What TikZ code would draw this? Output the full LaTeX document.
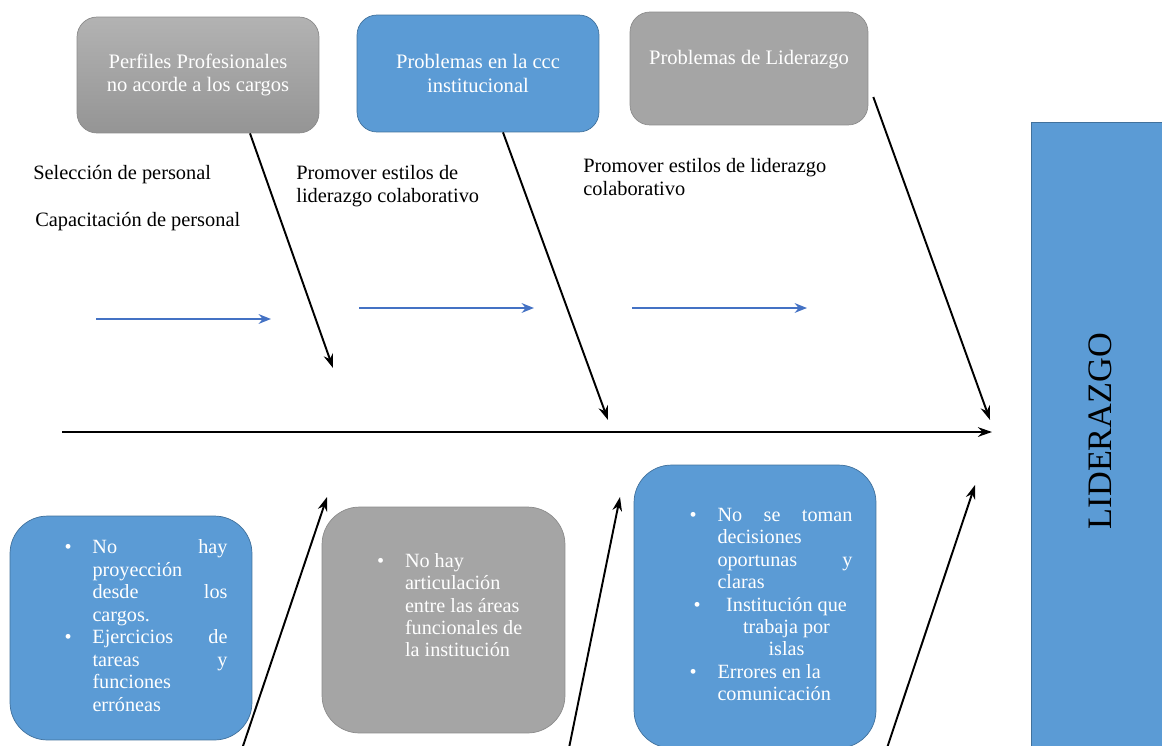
\documentclass[tikz,border=0pt]{standalone}
\usepackage{fontspec}
\setmainfont{Liberation Serif}
\usetikzlibrary{arrows.meta,positioning}
\definecolor{boxblue}{RGB}{91,155,213}
\definecolor{boxgray}{RGB}{165,165,165}
\definecolor{lineblue}{RGB}{65,113,156}
\definecolor{linegray}{RGB}{140,140,140}
\definecolor{arrowblue}{RGB}{68,114,196}
\newcommand{\bitem}[2]{\makebox[0.56cm][l]{\textbullet}\parbox[t]{#1}{\strut#2\strut}}
\newcommand{\linea}[1]{\hspace*{\fill}#1\hspace*{\fill}}
\tikzset{
  causa/.style={rounded corners=0.4cm, text=white, align=center, font=\fontsize{11.7}{13.2}\selectfont},
  causablue/.style={causa, fill=boxblue, draw=lineblue},
  causagray/.style={causa, fill=boxgray, draw=linegray},
  detalle/.style={rounded corners=0.75cm, text=white, font=\fontsize{11.5}{12.8}\selectfont},
  nota/.style={anchor=north west, inner sep=0pt, align=left, font=\fontsize{11.6}{13.2}\selectfont},
  espina/.style={line width=1.1pt, -{Stealth[length=8pt,width=5.5pt]}},
  flecha/.style={arrowblue, line width=1.4pt, -{Stealth[length=7pt,width=5.5pt]}}
}
\begin{document}
\begin{tikzpicture}[x=0.02cm, y=-0.02cm]
  \useasboundingbox (0,0) rectangle (1162,745);
  % cabezas de la espina
  \node[causagray, top color=boxgray!85!white, bottom color=boxgray!90!black, minimum width=4.84cm, minimum height=2.32cm] (perfiles) at (198,75) {Perfiles Profesionales\\no acorde a los cargos};
  \node[causablue, minimum width=4.84cm, minimum height=2.34cm] (ccc) at (478,73.5) {Problemas en la ccc\\institucional};
  \node[causagray, minimum width=4.76cm, minimum height=2.26cm, text depth=0.45cm] (liderprob) at (749,68.5) {Problemas de Liderazgo};
  \node[fill=boxblue, draw=lineblue, minimum width=12.76cm, minimum height=2.78cm, rotate=90, font=\fontsize{19.5}{24}\selectfont] (lider) at (1100.5,441) {\hspace*{0.4cm}LIDERAZGO};
  % textos sueltos
  \node[nota] (seleccion) at (33,165) {Selección de personal};
  \node[nota] (capacita) at (35,212) {Capacitación de personal};
  \node[nota] (promueve1) at (296,165) {Promover estilos de\\liderazgo colaborativo};
  \node[nota] (promueve2) at (583,158) {Promover estilos de liderazgo\\colaborativo};
  % cuadros de abajo
  \node[detalle, fill=boxblue, draw=lineblue, minimum width=4.84cm, minimum height=4.48cm] (noproy) at (131,628)
    {\hspace{0.6cm}\parbox{3.26cm}{\lineskip=0pt
      \bitem{2.7cm}{No \hfill hay\\proyección\\desde \hfill los\\cargos.}\par
      \bitem{2.7cm}{Ejercicios \hfill de\\tareas \hfill y\\funciones\\erróneas}}};
  \node[detalle, fill=boxgray, draw=linegray, minimum width=4.86cm, minimum height=4.52cm] (noart) at (443.5,620)
    {\hspace{0.5cm}\parbox{3.16cm}{\lineskip=0pt
      \bitem{2.6cm}{No hay\\articulación\\entre las áreas\\funcionales de\\la institución}\par\vspace{0.5cm}}};
  \node[detalle, fill=boxblue, draw=lineblue, minimum width=4.84cm, minimum height=5.66cm] (nodec) at (755,606.5)
    {\hspace{0.64cm}\parbox{3.26cm}{\lineskip=0pt
      \bitem{2.7cm}{No \hfill se \hfill toman\\decisiones\\oportunas \hfill y\\claras}\par
      \hspace*{0.08cm}\bitem{2.6cm}{\linea{Institución que}\\\linea{trabaja por}\\\linea{islas}}\par
      \bitem{2.7cm}{Errores en la\\comunicación}}};
  % espina central
  \coordinate (cola) at (62,432);
  \coordinate (punta) at (992,432);
  \draw[espina] (cola) -- (punta);
  \coordinate (t1) at (333,368);
  \coordinate (t2) at (608,420);
  \coordinate (t3) at (990,420);
  \draw[espina] ([xshift=1.04cm]perfiles.south) -- (t1);
  \draw[espina] ([xshift=0.5cm]ccc.south) -- (t2);
  \draw[espina] ([xshift=0.1cm,yshift=-0.57cm]liderprob.east) -- (t3);
  \coordinate (b1s) at (243,746);
  \coordinate (b1) at (327,497);
  \coordinate (b2s) at (569,748);
  \coordinate (b2) at (620,497);
  \coordinate (b3s) at (887,748);
  \coordinate (b3) at (975,485);
  \draw[espina] (b1s) -- (b1);
  \draw[espina] (b2s) -- (b2);
  \draw[espina] (b3s) -- (b3);
  % flechas azules
  \foreach \xa/\xb/\yy in {96/271/319, 359/534/308, 632/807/308}{
    \coordinate (fa\xa) at (\xa,\yy);
    \coordinate (fb\xa) at (\xb,\yy);
    \draw[flecha] (fa\xa) -- (fb\xa);
  }
\end{tikzpicture}
\end{document}
